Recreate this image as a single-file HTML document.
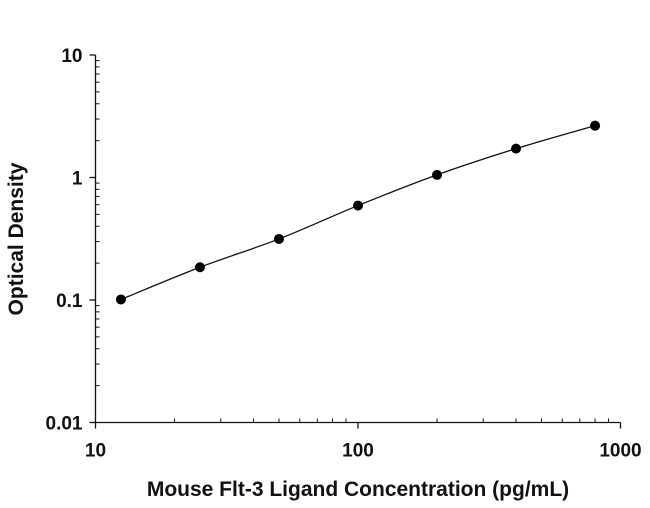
<!DOCTYPE html>
<html><head><meta charset="utf-8"><style>
body{margin:0;background:#fff}
svg text{font-family:"Liberation Sans",sans-serif;font-weight:bold;fill:#111}
</style></head><body>
<svg id="chart" width="650" height="503" viewBox="0 0 650 503" xmlns="http://www.w3.org/2000/svg">
<g id="axes"></g><g id="series"></g>
<text x="358" y="496" text-anchor="middle" font-size="21">Mouse Flt-3 Ligand Concentration (pg/mL)</text>
<text transform="translate(23,239) rotate(-90)" text-anchor="middle" font-size="21">Optical Density</text>
</svg>
<script>
const concentrations=[12.5,25,50,100,200,400,800];
const odValues=[0.101,0.185,0.315,0.59,1.05,1.72,2.65];
const xTickValues=[10,100,1000];
const xTickLabels=["10","100","1000"];
const yTickValues=[0.01,0.1,1,10];
const yTickLabels=["0.01","0.1","1","10"];
const NS="http://www.w3.org/2000/svg";
const X0=95.5,XD=262.5,Y0=422.5,YD=122.5;
function xs(v){return X0+XD*(Math.log10(v)-1);}
function ys(v){return Y0-YD*(Math.log10(v)+2);}
function mk(t,a,p){const e=document.createElementNS(NS,t);for(const k in a)e.setAttribute(k,a[k]);p.appendChild(e);return e;}
const ax=document.getElementById('axes'),se=document.getElementById('series');
const xl=mk('line',{x1:X0,y1:Y0,x2:xs(1000),y2:Y0,stroke:'#111','stroke-width':1.3},ax);


const yl=mk('line',{x1:X0,y1:Y0,x2:X0,y2:ys(10),stroke:'#111','stroke-width':1.3},ax);


for(let d=1;d<3;d++)for(let m=2;m<10;m++){const x=xs(m*Math.pow(10,d));mk('line',{x1:x,y1:Y0,x2:x,y2:Y0-4,stroke:'#111'},ax);}
for(let d=-2;d<1;d++)for(let m=2;m<10;m++){const y=ys(m*Math.pow(10,d));mk('line',{x1:X0,y1:y,x2:X0+4,y2:y,stroke:'#111'},ax);}
xTickValues.forEach((v,i)=>{const x=xs(v);mk('line',{x1:x,y1:Y0,x2:x,y2:Y0+6,stroke:'#111','stroke-width':1.3},ax);
const t=mk('text',{x:x,y:Y0+34,'text-anchor':'middle','font-size':19},ax);t.textContent=xTickLabels[i];

});
yTickValues.forEach((v,i)=>{const y=ys(v);mk('line',{x1:X0-6,y1:y,x2:X0,y2:y,stroke:'#111','stroke-width':1.3},ax);
const t=mk('text',{x:X0-13,y:y+7,'text-anchor':'end','font-size':19},ax);t.textContent=yTickLabels[i];

});
const pts=concentrations.map((c,i)=>[xs(c),ys(odValues[i])]);
let d='M'+pts[0][0]+','+pts[0][1];
for(let i=0;i<pts.length-1;i++){const p0=pts[i-1]||pts[i],p1=pts[i],p2=pts[i+1],p3=pts[i+2]||p2;
d+=' C'+(p1[0]+(p2[0]-p0[0])/6)+','+(p1[1]+(p2[1]-p0[1])/6)+' '+(p2[0]-(p3[0]-p1[0])/6)+','+(p2[1]-(p3[1]-p1[1])/6)+' '+p2[0]+','+p2[1];}
const path=mk('path',{d:d,fill:'none',stroke:'#111','stroke-width':1.3},se);


pts.forEach(p=>{const c=mk('circle',{cx:p[0],cy:p[1],r:5,fill:'#000'},se);

});
</script>
</body></html>
